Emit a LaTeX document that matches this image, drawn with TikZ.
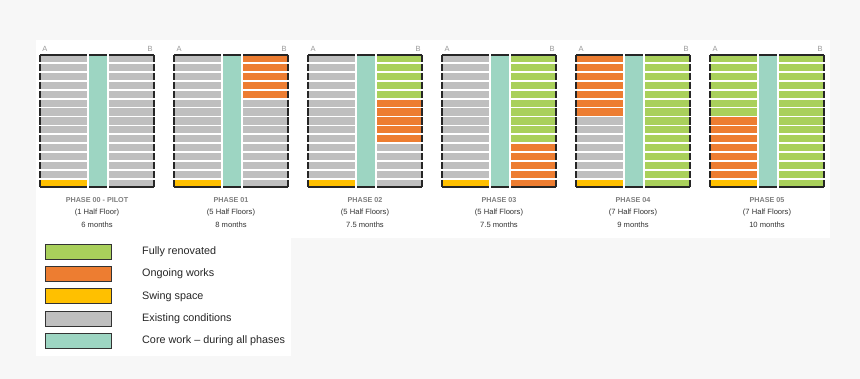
\documentclass[tikz,border=0pt]{standalone}
\usepackage{fontspec}
\setmainfont{Liberation Sans}
\usetikzlibrary{positioning}
\definecolor{bggray}{HTML}{F7F7F7}
\definecolor{existgray}{HTML}{BFBFBF}
\definecolor{ongoing}{HTML}{ED7D31}
\definecolor{renovated}{HTML}{A9D05B}
\definecolor{swing}{HTML}{FFC000}
\definecolor{corework}{HTML}{9DD5C2}
\definecolor{titlegray}{HTML}{7F7F7F}
\newcommand\rowpitch{8.933}
\newcommand\phasestep{134}
\tikzset{halffloor/.style={rectangle, inner sep=0pt, outer sep=0pt, minimum height=7.13pt, anchor=north west}}
\tikzset{edgeline/.style={black!85, line width=1.6pt}}
\tikzset{phasetext/.style={font=\fontsize{7.6}{9}\selectfont, text=black!80, inner sep=0pt}}
\tikzset{phasetitle/.style={font=\fontsize{7.2}{9}\selectfont\bfseries, text=titlegray, inner sep=0pt}}
\tikzset{ablabel/.style={font=\fontsize{7.5}{9}\selectfont, text=titlegray!80, inner sep=0pt}}
\tikzset{legendbox/.style={rectangle, draw=black!80, line width=0.8pt, minimum width=66pt, minimum height=15pt, inner sep=0pt}}
\tikzset{legendtext/.style={font=\fontsize{10.8}{12}\selectfont, text=black!85, anchor=west, inner sep=0pt}}

\begin{document}
\begin{tikzpicture}[x=1pt,y=-1pt]
\useasboundingbox (0,0) rectangle (860,379);
\fill[bggray] (0,0) rectangle (860,379);
\fill[white] (36,40) rectangle (830,238);
\fill[white] (36,238) rectangle (291,356);
\foreach \ptitle/\pfloors/\pmonths/\lgr/\lor/\rgr/\ror [count=\ph from 0] in {
	PHASE 00 - PILOT/(1 Half Floor)/6 months/0/0/0/0,
	PHASE 01/(5 Half Floors)/8 months/0/0/0/5,
	PHASE 02/(5 Half Floors)/7.5 months/0/0/5/5,
	PHASE 03/(5 Half Floors)/7.5 months/0/0/10/5,
	PHASE 04/(7 Half Floors)/9 months/0/7/15/0,
	PHASE 05/(7 Half Floors)/10 months/7/7/15/0} {
	\pgfmathsetmacro\px{40+\ph*\phasestep}
	% core, always under works
	\node[halffloor, fill=corework, minimum width=18pt, minimum height=132pt] (core\ph) at (\px+49,55) {};
	\draw[edgeline] (core\ph.north west) -- (core\ph.north east);
	\draw[edgeline] (core\ph.south west) -- (core\ph.south east);
	\foreach \rw in {1,...,15} {
		\ifnum\rw=15 \def\lcol{swing}\else
		\ifnum\rw>\numexpr\lgr+\lor\relax \def\lcol{existgray}\else
		\ifnum\rw>\lgr \def\lcol{ongoing}\else \def\lcol{renovated}\fi\fi\fi
		\ifnum\rw>\numexpr\rgr+\ror\relax \def\rcol{existgray}\else
		\ifnum\rw>\rgr \def\rcol{ongoing}\else \def\rcol{renovated}\fi\fi
		\node[halffloor, fill=\lcol, minimum width=47pt] (l\ph-\rw) at (\px,54+\rw*\rowpitch-\rowpitch+0.9) {};
		\node[halffloor, fill=\rcol, minimum width=45pt] (r\ph-\rw) at (\px+69,54+\rw*\rowpitch-\rowpitch+0.9) {};
		\draw[edgeline] (l\ph-\rw.north west) -- (l\ph-\rw.south west);
		\draw[edgeline] (r\ph-\rw.north east) -- (r\ph-\rw.south east);
	}
	\draw[edgeline] (l\ph-1.north west) -- (l\ph-1.north east);
	\draw[edgeline] (l\ph-15.south west) -- (l\ph-15.south east);
	\draw[edgeline] (r\ph-1.north west) -- (r\ph-1.north east);
	\draw[edgeline] (r\ph-15.south west) -- (r\ph-15.south east);
	\node[ablabel] (a\ph) at (\px+5,48.5) {A};
	\node[ablabel] (b\ph) at (\px+110,48.5) {B};
	\node[phasetitle] (title\ph) at (\px+57,200.5) {\ptitle};
	\node[phasetext] (floors\ph) at (\px+57,213) {\pfloors};
	\node[phasetext] (months\ph) at (\px+57,225) {\pmonths};
}
% legend
\foreach \col/\txt [count=\i from 0] in {renovated/Fully renovated, ongoing/Ongoing works, swing/Swing space, existgray/Existing conditions, corework/Core work – during all phases} {
	\node[legendbox, fill=\col] (key\i) at (78,251.5+\i*22.4) {};
	\node[legendtext] (keytext\i) at (142,251.5+\i*22.4) {\txt};
}
\end{tikzpicture}
\end{document}
